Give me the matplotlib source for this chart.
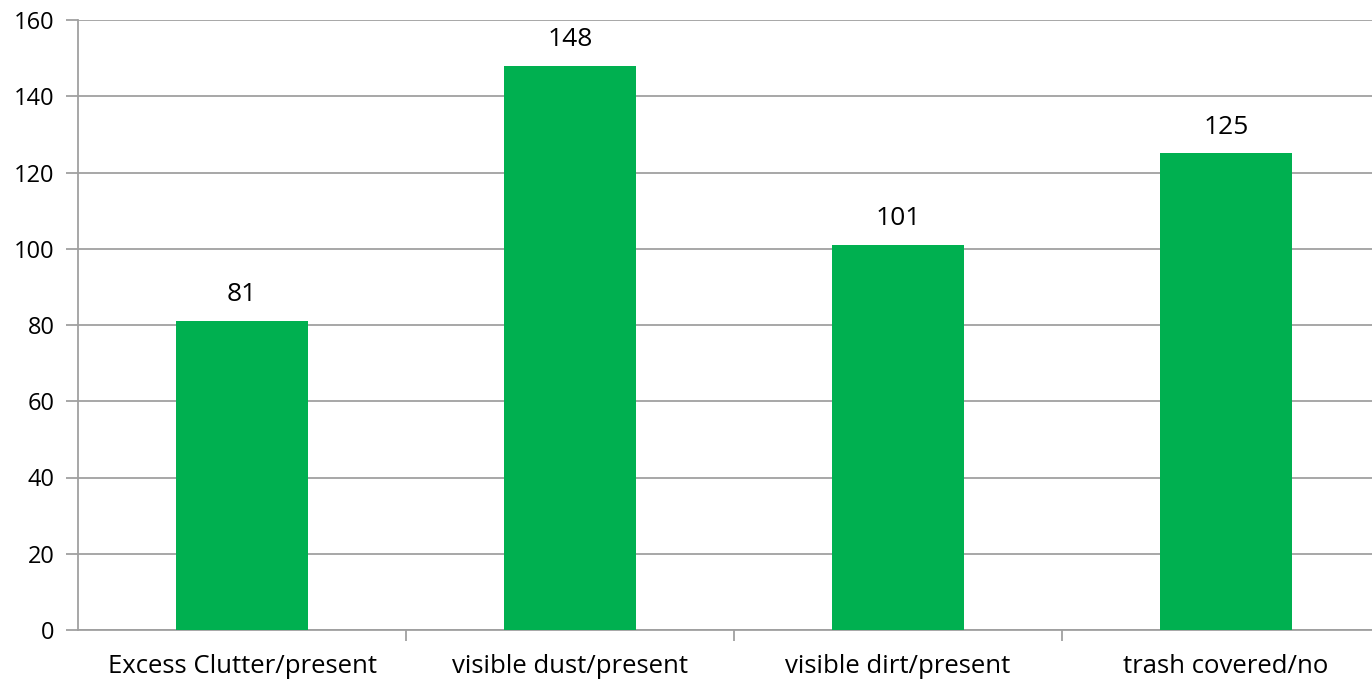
import matplotlib.pyplot as plt
import numpy as np

categories = ["Excess Clutter/present", "visible dust/present", "visible dirt/present", "trash covered/no"]
values = [81, 148, 101, 125]
yticks = [0, 20, 40, 60, 80, 100, 120, 140, 160]

plt.rcParams['font.family'] = ['Open Sans', 'DejaVu Sans']

fig = plt.figure(figsize=(13.72, 6.82), dpi=100)
ax = fig.add_axes([78/1372, 52/682, 1312/1372, 610/682])

x = np.arange(len(categories))
bars = ax.bar(x, values, width=0.4, color='#00B050', zorder=3)
for xi, v in zip(x, values):
    ax.annotate(str(v), (xi, v), xytext=(0, 10), textcoords='offset points',
                ha='center', va='bottom', fontsize=19, color='#000000')

ax.set_xlim(-0.5, 3.5)
ax.set_ylim(0, 160)
ax.set_yticks(yticks)
ax.set_xticks(x)
ax.set_xticklabels(categories, fontsize=18.5)
ax.set_xticks(np.arange(0.5, 3.5, 1), minor=True)
ax.tick_params(axis='x', which='major', length=0, pad=17)
ax.tick_params(axis='x', which='minor', length=8, color='#A0A0A0', width=1.3)
ax.tick_params(axis='y', length=9, color='#A0A0A0', width=1.3, labelsize=17, pad=8)

ax.yaxis.grid(True, color='#A0A0A0', linewidth=1.3, zorder=0)
for s in ['top', 'right']:
    ax.spines[s].set_visible(False)
for s in ['left', 'bottom']:
    ax.spines[s].set_color('#A0A0A0')
    ax.spines[s].set_linewidth(1.3)

fig.savefig('out.png', dpi=100)
